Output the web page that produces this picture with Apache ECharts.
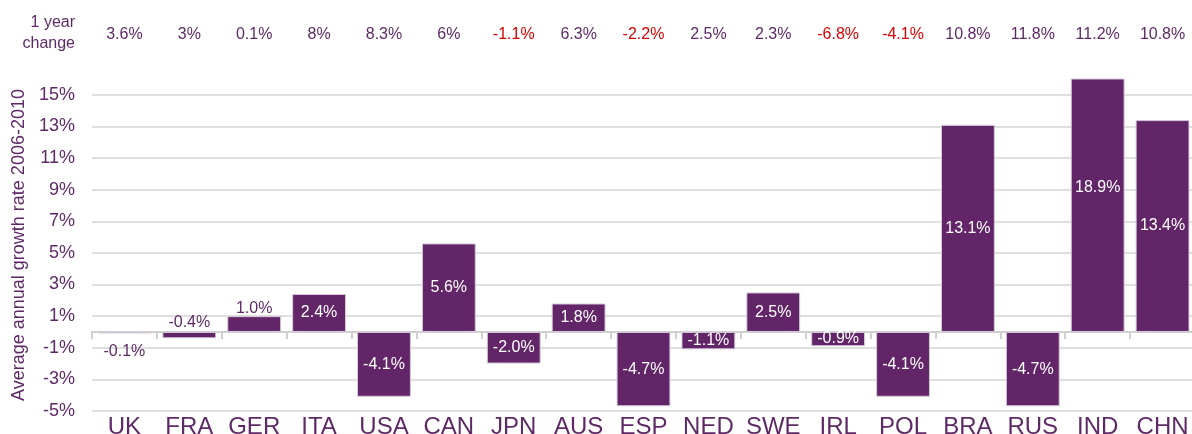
<!DOCTYPE html>
<html>
<head>
<meta charset="utf-8">
<script src="https://cdn.jsdelivr.net/npm/echarts@6/dist/echarts.min.js"></script>
<style>
  html, body { margin: 0; padding: 0; background: #fff; }
  #chart { width: 1192px; height: 434px; }
</style>
</head>
<body>
<div id="chart"></div>
<script>
// data
const countries = ['UK', 'FRA', 'GER', 'ITA', 'USA', 'CAN', 'JPN', 'AUS', 'ESP', 'NED', 'SWE', 'IRL', 'POL', 'BRA', 'RUS', 'IND', 'CHN']
const growth = [-0.1, -0.4, 1.0, 2.4, -4.1, 5.6, -2.0, 1.8, -4.7, -1.1, 2.5, -0.9, -4.1, 13.1, -4.7, 18.9, 13.4]
const yearChange = ['3.6%', '3%', '0.1%', '8%', '8.3%', '6%', '-1.1%', '6.3%', '-2.2%', '2.5%', '2.3%', '-6.8%', '-4.1%', '10.8%', '11.8%', '11.2%', '10.8%']
const yTicks = [-5, -3, -1, 1, 3, 5, 7, 9, 11, 13, 15]

const purple = '#622567'
const textPurple = '#5e2a66'
const red = '#dd0000'
const font = '"Liberation Sans", Arial, sans-serif'

// small bars keep their label outside, in the text colour
const labelOverride = {
  UK: { position: 'bottom', distance: 10, color: textPurple },
  FRA: { position: 'top', distance: 1, color: textPurple },
  GER: { position: 'top', distance: 0, color: textPurple },
  IND: { offset: [0, -18] }
}

const barData = growth.map((v, i) => {
  const o = labelOverride[countries[i]]
  return o ? { value: v, label: o } : v
})

const chart = echarts.init(document.getElementById('chart'))
chart.setOption({
  animation: false,
  textStyle: { fontFamily: font },
  grid: { left: 92, right: -3, top: 79, bottom: 23, outerBoundsMode: 'none' },
  graphic: [{
    type: 'text',
    x: 75, y: 12,
    style: {
      text: '1 year\nchange',
      align: 'right',
      font: '16px ' + font,
      fill: textPurple,
      lineHeight: 21
    }
  }],
  xAxis: [
    {
      type: 'category',
      data: countries,
      position: 'bottom',
      axisLine: { show: false, onZero: false },
      axisTick: { show: false },
      axisLabel: { color: textPurple, fontSize: 24, margin: 4, interval: 0, fontFamily: font }
    },
    {
      type: 'category',
      data: countries,
      position: 'top',
      axisLine: { show: true, onZero: true, lineStyle: { color: '#d0d0d0', width: 2 } },
      axisTick: { show: true, inside: true, length: 7, lineStyle: { color: '#d0d0d0', width: 2 } },
      axisLabel: { show: false }
    },
    {
      type: 'category',
      data: yearChange,
      position: 'top',
      axisLine: { show: false, onZero: false },
      axisTick: { show: false },
      axisLabel: {
        fontSize: 16,
        margin: 36,
        interval: 0,
        fontFamily: font,
        color: (val) => val.startsWith('-') ? red : textPurple
      }
    }
  ],
  yAxis: {
    type: 'value',
    min: -5,
    max: 16,
    name: 'Average annual growth rate 2006-2010',
    nameLocation: 'middle',
    nameGap: 63,
    nameTextStyle: { color: textPurple, fontSize: 18, fontFamily: font },
    axisLine: { show: false },
    axisTick: { show: false, customValues: yTicks },
    axisLabel: {
      customValues: yTicks,
      color: textPurple,
      fontSize: 18,
      margin: 17,
      fontFamily: font,
      formatter: v => v + '%'
    },
    splitLine: { show: true, lineStyle: { color: '#d4d4d4', width: 1.5 } }
  },
  series: [{
    type: 'bar',
    xAxisIndex: 0,
    data: barData,
    barCategoryGap: '17%',
    itemStyle: { color: purple, borderColor: '#d6cadb', borderWidth: 1 },
    label: {
      show: true,
      position: 'inside',
      color: '#fff',
      fontSize: 16,
      fontFamily: font,
      formatter: p => p.value.toFixed(1) + '%'
    }
  }]
})
</script>
</body>
</html>
